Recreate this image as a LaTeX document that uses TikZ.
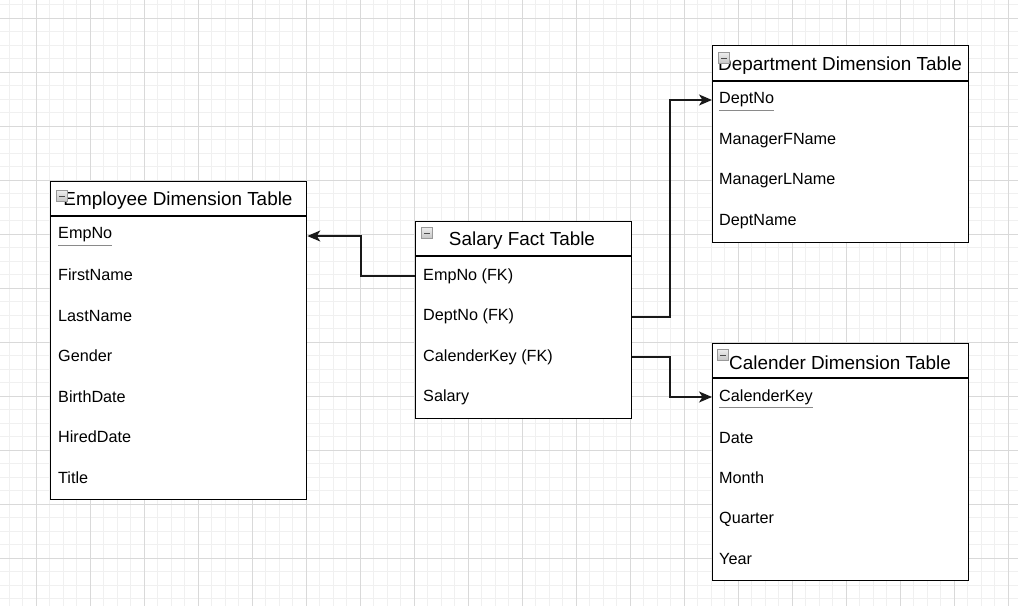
\documentclass[tikz,border=0pt]{standalone}
\usepackage{fontspec}
\setmainfont{Liberation Sans}
\usetikzlibrary{arrows.meta,calc}
\definecolor{gminor}{HTML}{F0F0F0}
\definecolor{gmajor}{HTML}{D9D9D9}
\definecolor{ulgray}{HTML}{8A8A8A}
\tikzset{
  tbl/.style={draw=black,line width=1.3pt,fill=white,anchor=north west,inner sep=0pt},
  hdrline/.style={draw=black,line width=1.3pt},
  rowtxt/.style={anchor=west,inner sep=0pt,font=\fontsize{16.2}{18}\selectfont},
  ttl/.style={inner sep=0pt,font=\fontsize{18.9}{22}\selectfont},
  icon/.style={draw=gray!80,top color=gray!15,bottom color=gray!45,minimum size=10.5pt,inner sep=0pt,line width=0.6pt,
    path picture={\draw[black!70,line width=1pt] ([xshift=2.5pt]path picture bounding box.west) -- ([xshift=-2.5pt]path picture bounding box.east);}},
  conn/.style={line width=1.4pt,draw=black!90,-{Stealth[length=13pt,width=11pt,inset=3.5pt]}},
  ul/.style={draw=ulgray,line width=1pt}
}
\begin{document}
\begin{tikzpicture}[x=1pt,y=-1pt]
\useasboundingbox (0,0) rectangle (1018,606);
\fill[white] (0,0) rectangle (1018,606);
% grid
\foreach \i in {0,...,75} {
  \pgfmathsetmacro{\xx}{9+13.5*\i}
  \draw[gminor,line width=0.8pt] (\xx,0) -- (\xx,606);
}
\foreach \i in {0,...,45} {
  \pgfmathsetmacro{\yy}{4.5+13.5*\i}
  \draw[gminor,line width=0.8pt] (0,\yy) -- (1018,\yy);
}
\foreach \i in {0,...,18} {
  \pgfmathsetmacro{\xx}{36+54*\i}
  \draw[gmajor,line width=0.8pt] (\xx,0) -- (\xx,606);
}
\foreach \i in {0,...,11} {
  \pgfmathsetmacro{\yy}{18+54*\i}
  \draw[gmajor,line width=0.8pt] (0,\yy) -- (1018,\yy);
}

% Employee Dimension Table
\node[tbl,minimum width=256pt,minimum height=318pt] (emp) at (50,181) {};
\draw[hdrline] (50,216) -- (306,216);
\node[ttl] (empT) at (178,201) {Employee Dimension Table};
\node[icon] (empI) at (62,196) {};
\node[rowtxt] (e1) at (58,235) {EmpNo};
\draw[ul] (e1.south west) ++(0,3) -- ++(54,0);
\node[rowtxt] (e2) at (58,275) {FirstName};
\node[rowtxt] (e3) at (58,316) {LastName};
\node[rowtxt] (e4) at (58,356) {Gender};
\node[rowtxt] (e5) at (58,397) {BirthDate};
\node[rowtxt] (e6) at (58,437) {HiredDate};
\node[rowtxt] (e7) at (58,478) {Title};

% Salary Fact Table
\node[tbl,minimum width=216pt,minimum height=197pt] (sal) at (415,221) {};
\draw[hdrline] (415,256) -- (631,256);
\node[ttl] (salT) at (522,241) {Salary Fact Table};
\node[icon] (salI) at (427,233) {};
\node[rowtxt] (s1) at (423,276) {EmpNo (FK)};
\node[rowtxt] (s2) at (423,316) {DeptNo (FK)};
\node[rowtxt] (s3) at (423,357) {CalenderKey (FK)};
\node[rowtxt] (s4) at (423,397) {Salary};

% Department Dimension Table
\node[tbl,minimum width=256pt,minimum height=197pt] (dep) at (712,45) {};
\draw[hdrline] (712,81) -- (968,81);
\node[ttl] (depT) at (840,66) {Department Dimension Table};
\node[icon] (depI) at (724,58) {};
\node[rowtxt] (d1) at (719,100) {DeptNo};
\draw[ul] (d1.south west) ++(0,3) -- ++(55,0);
\node[rowtxt] (d2) at (719,141) {ManagerFName};
\node[rowtxt] (d3) at (719,181) {ManagerLName};
\node[rowtxt] (d4) at (719,222) {DeptName};

% Calender Dimension Table
\node[tbl,minimum width=256pt,minimum height=237pt] (cal) at (712,343) {};
\draw[hdrline] (712,378) -- (968,378);
\node[ttl] (calT) at (840,363) {Calender Dimension Table};
\node[icon] (calI) at (723,355) {};
\node[rowtxt] (c1) at (719,397) {CalenderKey};
\draw[ul] (c1.south west) ++(0,3) -- ++(94,0);
\node[rowtxt] (c2) at (719,438) {Date};
\node[rowtxt] (c3) at (719,478) {Month};
\node[rowtxt] (c4) at (719,519) {Quarter};
\node[rowtxt] (c5) at (719,559) {Year};

% connectors
\coordinate (k1) at (361,276);
\coordinate (k2) at (670,317);
\coordinate (k3) at (670,357);
\draw[conn] (sal.west |- k1) -- (k1) |- ($(emp.east |- e1)+(0,1)$);
\draw[conn] (sal.east |- k2) -- (k2) |- (dep.west |- d1);
\draw[conn] (sal.east |- k3) -- (k3) |- (cal.west |- c1);
\end{tikzpicture}
\end{document}
